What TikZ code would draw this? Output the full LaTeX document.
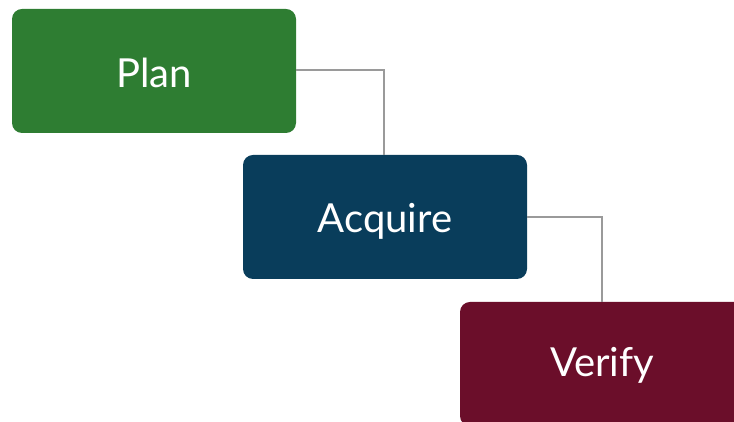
\documentclass[tikz,border=0pt]{standalone}
\usepackage{fontspec}
\setmainfont{Lato}
\definecolor{plangreen}{HTML}{2E7D32}
\definecolor{acqblue}{HTML}{093D5B}
\definecolor{verred}{HTML}{6B0E2A}
\definecolor{linkgrey}{HTML}{9A9A9A}
\begin{document}
\begin{tikzpicture}[x=1pt,y=1pt,
  stagebox/.style={anchor=base, inner sep=0pt, font=\fontsize{40}{46}\selectfont, text=white},
  link/.style={draw=linkgrey, line width=1.5pt}]
\useasboundingbox (0,0) rectangle (734,422);
\begin{scope}
\clip (0,0) rectangle (734,422);
\fill[plangreen, rounded corners=10pt] (12,289) rectangle (296,413);
\fill[acqblue, rounded corners=10pt] (243,143) rectangle (527,267);
\fill[verred, rounded corners=10pt] (460,-4) rectangle (760,120);
\end{scope}
\node[stagebox] (plan) at (154,334) {Plan};
\node[stagebox] (acq) at (385,189) {Acquire};
\node[stagebox] (ver) at (602,45) {Verify};
\coordinate (planR) at (296,352);
\coordinate (acqT) at (384,267);
\coordinate (acqR) at (527,205);
\coordinate (verT) at (602,120);
\draw[link] (planR) -| (acqT);
\draw[link] (acqR) -| (verT);
\end{tikzpicture}
\end{document}
